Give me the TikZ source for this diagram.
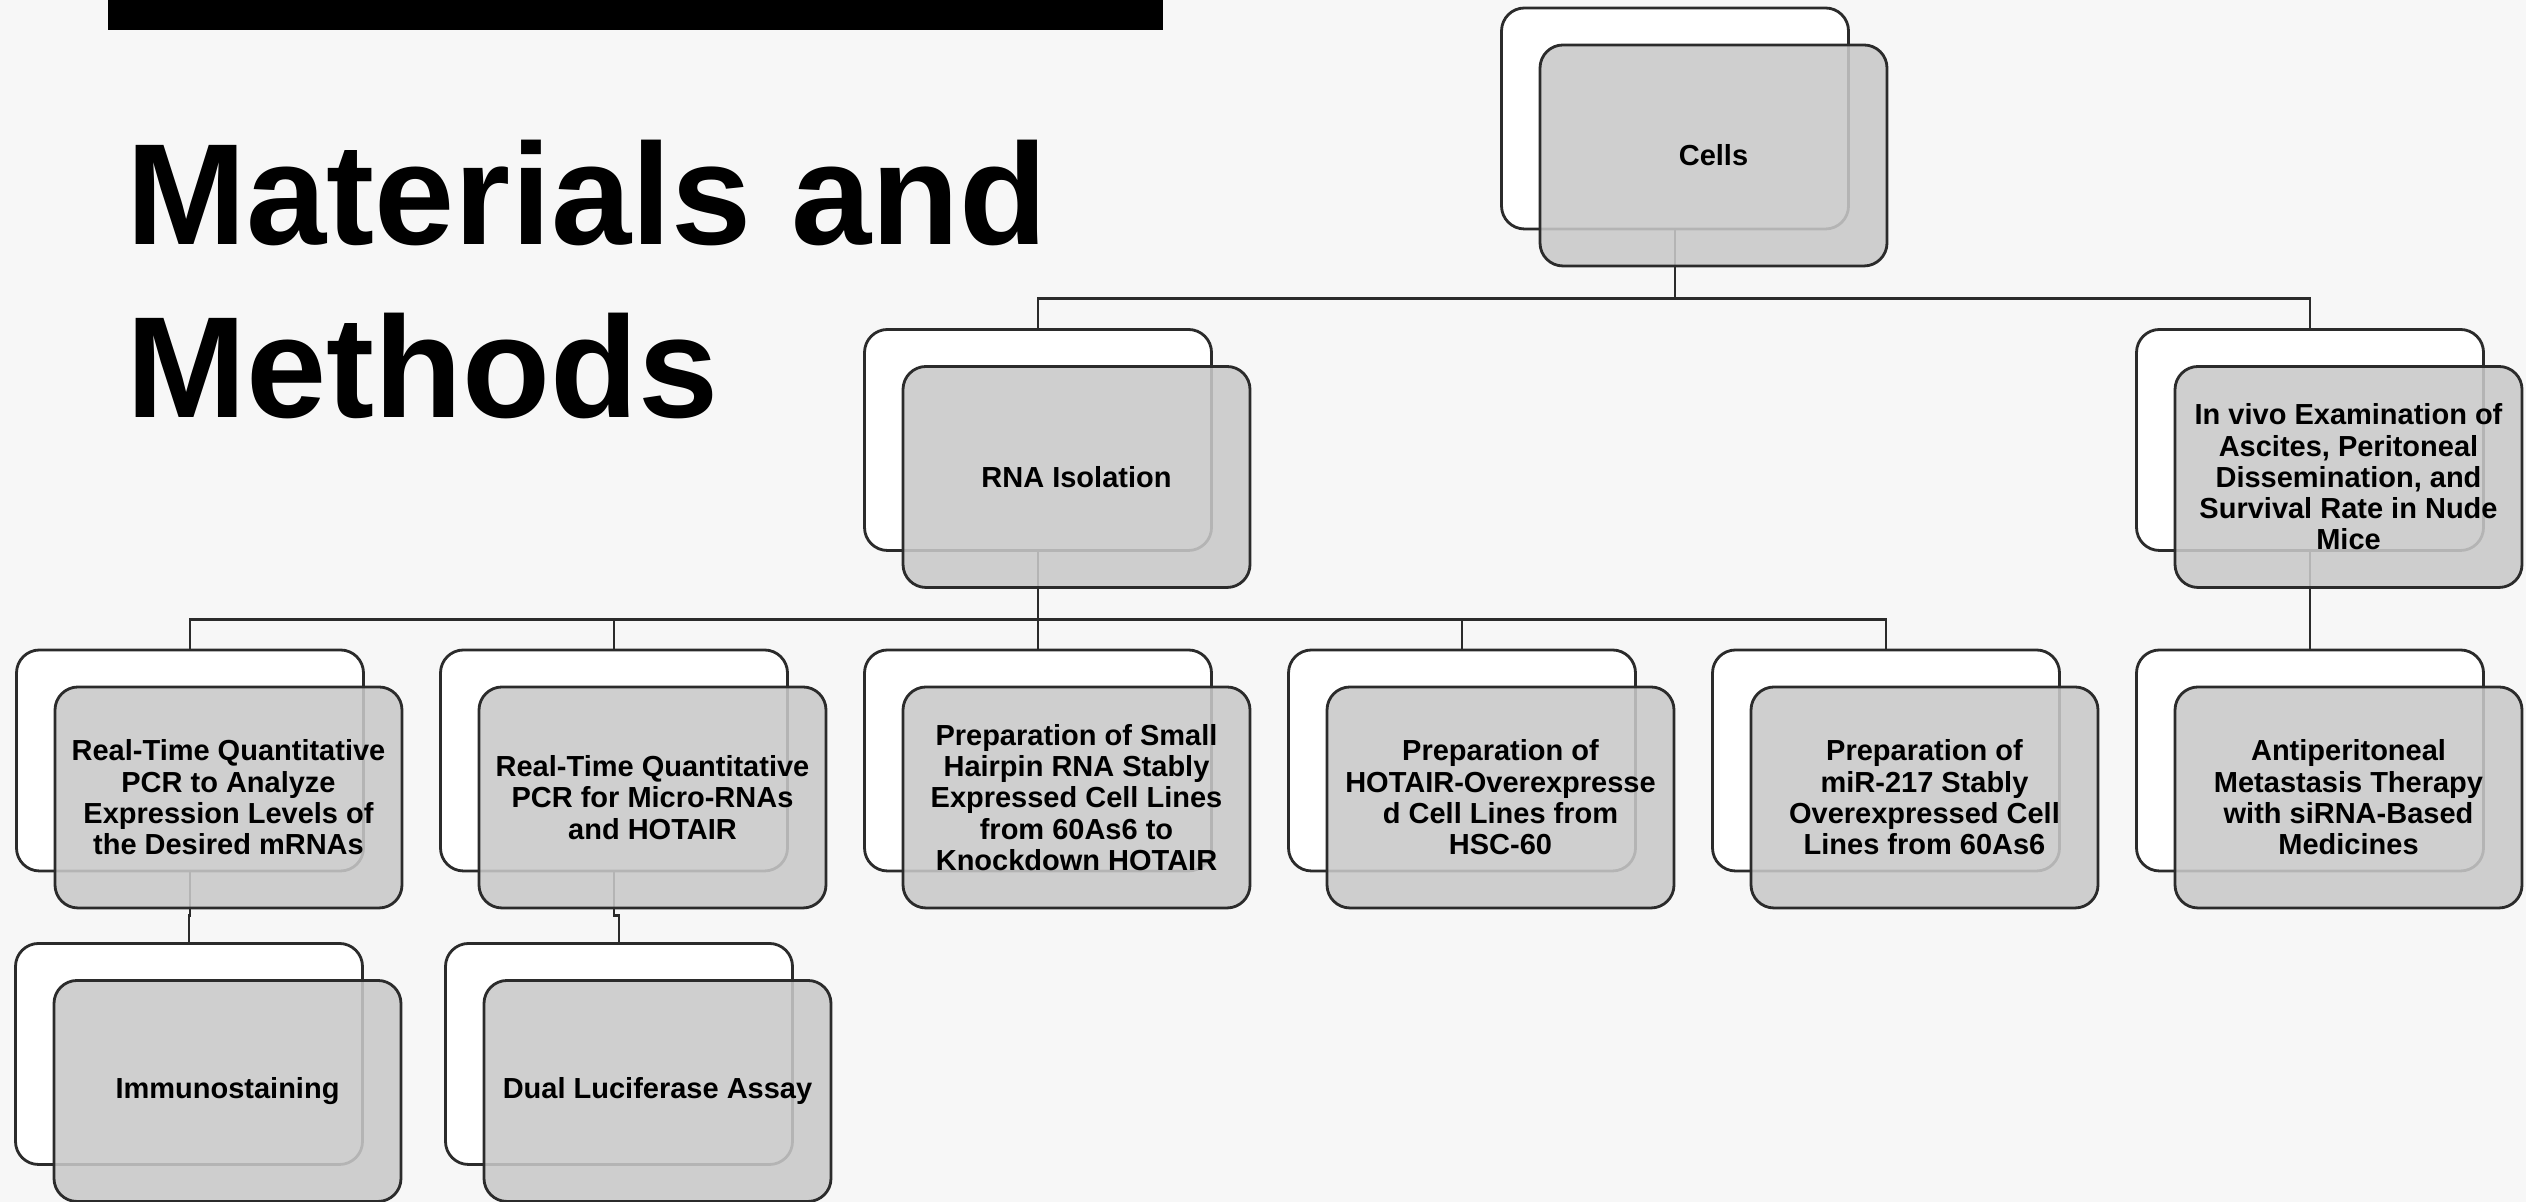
\documentclass[tikz,border=0pt]{standalone}
\usepackage{xcolor}
\usepackage{fontspec}
\setmainfont{Liberation Sans}
\usepackage{tikz}
\usetikzlibrary{calc,positioning}
\definecolor{bgcol}{RGB}{247,247,247}
\definecolor{linecol}{RGB}{43,43,43}
\definecolor{boxgray}{RGB}{201,201,201}

\begin{document}
\begin{tikzpicture}[
  backbox/.style={rectangle, rounded corners=0.23cm, draw=linecol, line width=0.8pt, fill=white,
    minimum width=3.47cm, minimum height=2.21cm, inner sep=0pt},
  frontbox/.style={rectangle, rounded corners=0.23cm, draw=linecol, line width=0.8pt, fill=boxgray,
    fill opacity=0.87, text opacity=1, minimum width=3.47cm, minimum height=2.21cm, inner sep=1pt,
    align=center, font=\fontsize{8.25}{8.9}\selectfont\bfseries},
  link/.style={draw=linecol, line width=0.8pt}
]
\useasboundingbox (0,0) rectangle (25.26,12.02);
\fill [bgcol] (0,0) rectangle (25.26,12.02);
\fill [black] (1.08,11.72) rectangle (11.63,12.02);
\node [anchor=base west, inner sep=0, align=left, font=\fontsize{41}{49.5}\selectfont\bfseries] (title) at (1.26,7.84) {Materials and\\Methods};

% back boxes
\node [backbox] (cells) at (16.75,10.835) {};
\node [backbox] (rna) at (10.38,7.62) {};
\node [backbox] (vivo) at (23.10,7.62) {};
\node [backbox] (pcrA) at (1.90,4.415) {};
\node [backbox] (pcrB) at (6.14,4.415) {};
\node [backbox] (shrna) at (10.38,4.415) {};
\node [backbox] (hotair) at (14.62,4.415) {};
\node [backbox] (mir) at (18.86,4.415) {};
\node [backbox] (anti) at (23.10,4.415) {};
\node [backbox] (immuno) at (1.89,1.48) {};
\node [backbox] (dual) at (6.19,1.48) {};

% connectors
\draw [link] (cells.south) -- ++(0,-0.68) -| (rna.north);
\draw [link] (cells.south) -- ++(0,-0.68) -| (vivo.north);
\foreach \k in {pcrA,pcrB,shrna,hotair,mir}
  \draw [link] (rna.south) -- ++(0,-0.68) -| (\k.north);
\draw [link] (vivo.south) -- (anti.north);
\draw [link] (pcrA.south) -- ++(0,-0.43) -| (immuno.north);
\draw [link] (pcrB.south) -- ++(0,-0.43) -| (dual.north);

% front boxes
\node [frontbox] (cellsF) at ($(cells)+(0.385,-0.37)$) {Cells};
\node [frontbox] (rnaF) at ($(rna)+(0.385,-0.37)$) {RNA Isolation};
\node [frontbox] (vivoF) at ($(vivo)+(0.385,-0.37)$) {In vivo Examination of\\Ascites, Peritoneal\\Dissemination, and\\Survival Rate in Nude\\Mice};
\node [frontbox] (pcrAF) at ($(pcrA)+(0.385,-0.37)$) {Real-Time Quantitative\\PCR to Analyze\\Expression Levels of\\the Desired mRNAs};
\node [frontbox] (pcrBF) at ($(pcrB)+(0.385,-0.37)$) {Real-Time Quantitative\\PCR for Micro-RNAs\\and HOTAIR};
\node [frontbox] (shrnaF) at ($(shrna)+(0.385,-0.37)$) {Preparation of Small\\Hairpin RNA Stably\\Expressed Cell Lines\\from 60As6 to\\Knockdown HOTAIR};
\node [frontbox] (hotairF) at ($(hotair)+(0.385,-0.37)$) {Preparation of\\HOTAIR-Overexpresse\\d Cell Lines from\\HSC-60};
\node [frontbox] (mirF) at ($(mir)+(0.385,-0.37)$) {Preparation of\\miR-217 Stably\\Overexpressed Cell\\Lines from 60As6};
\node [frontbox] (antiF) at ($(anti)+(0.385,-0.37)$) {Antiperitoneal\\Metastasis Therapy\\with siRNA-Based\\Medicines};
\node [frontbox] (immunoF) at ($(immuno)+(0.385,-0.37)$) {Immunostaining};
\node [frontbox] (dualF) at ($(dual)+(0.385,-0.37)$) {Dual Luciferase Assay};

\end{tikzpicture}
\end{document}
